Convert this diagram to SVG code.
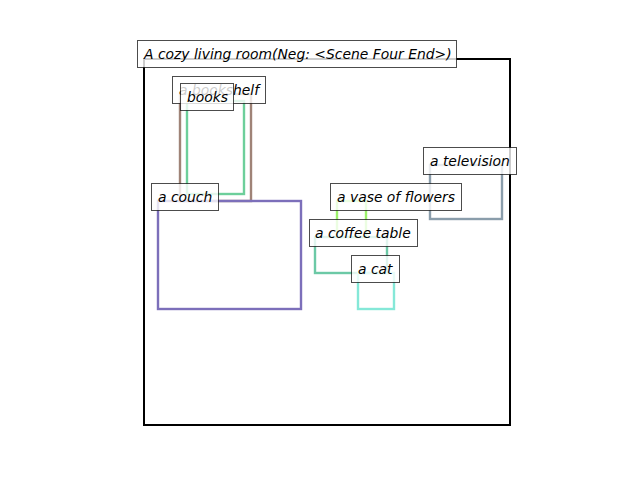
<svg xmlns="http://www.w3.org/2000/svg" width="640" height="480" viewBox="0 0 640 480">
<style>
.obj{fill:none;stroke-width:2.4}
.lbl rect{fill:#fff;fill-opacity:0.8;stroke:#000;stroke-opacity:0.7;stroke-width:1}
.lbl text{font-family:"DejaVu Sans",sans-serif;font-style:italic;font-size:13.9px;fill:#000}
</style>
<rect width="640" height="480" fill="#fff"/>
<g id="scene">
<rect x="144" y="59" width="366" height="366" fill="none" stroke="#000" stroke-width="2"/>
</g>
<g id="boxes">
<rect id="bookshelf-box" class="obj" x="180" y="94" width="71" height="107" stroke="#9f8377"/>
<rect id="books-box" class="obj" x="187" y="101" width="57" height="93" stroke="#6dcf9b"/>
<rect id="couch-box" class="obj" x="158" y="201" width="143" height="108" stroke="#7c6fba"/>
<rect id="television-box" class="obj" x="430" y="165" width="72" height="54" stroke="#8a9dab"/>
<rect id="vase-box" class="obj" x="337" y="201" width="29" height="36" stroke="#9cf26a"/>
<rect id="table-box" class="obj" x="315" y="237" width="72" height="36" stroke="#6cc9a6"/>
<rect id="cat-box" class="obj" x="358" y="273" width="36" height="36" stroke="#85e8d8"/>
</g>
<g id="title" class="lbl">
<rect x="137.5" y="40.5" width="319" height="27"/>
<text x="144" y="59">A cozy living room(Neg: &lt;Scene Four End&gt;)</text>
</g>
<g id="bookshelf" class="lbl">
<rect x="172.5" y="76.5" width="93" height="27"/>
<text x="179" y="95">a bookshelf</text>
</g>
<g id="books" class="lbl">
<rect x="180.5" y="83.5" width="53" height="27"/>
<text x="187" y="102">books</text>
</g>
<g id="couch" class="lbl">
<rect x="151.5" y="183.5" width="67" height="27"/>
<text x="158" y="202">a couch</text>
</g>
<g id="television" class="lbl">
<rect x="423.5" y="147.5" width="93" height="27"/>
<text x="430" y="166">a television</text>
</g>
<g id="vase" class="lbl">
<rect x="330.5" y="183.5" width="131" height="27"/>
<text x="337" y="202">a vase of flowers</text>
</g>
<g id="coffee-table" class="lbl">
<rect x="309.5" y="219.5" width="108" height="27"/>
<text x="315" y="238">a coffee table</text>
</g>
<g id="cat" class="lbl">
<rect x="351.5" y="255.5" width="48" height="27"/>
<text x="358" y="274">a cat</text>
</g>
</svg>
